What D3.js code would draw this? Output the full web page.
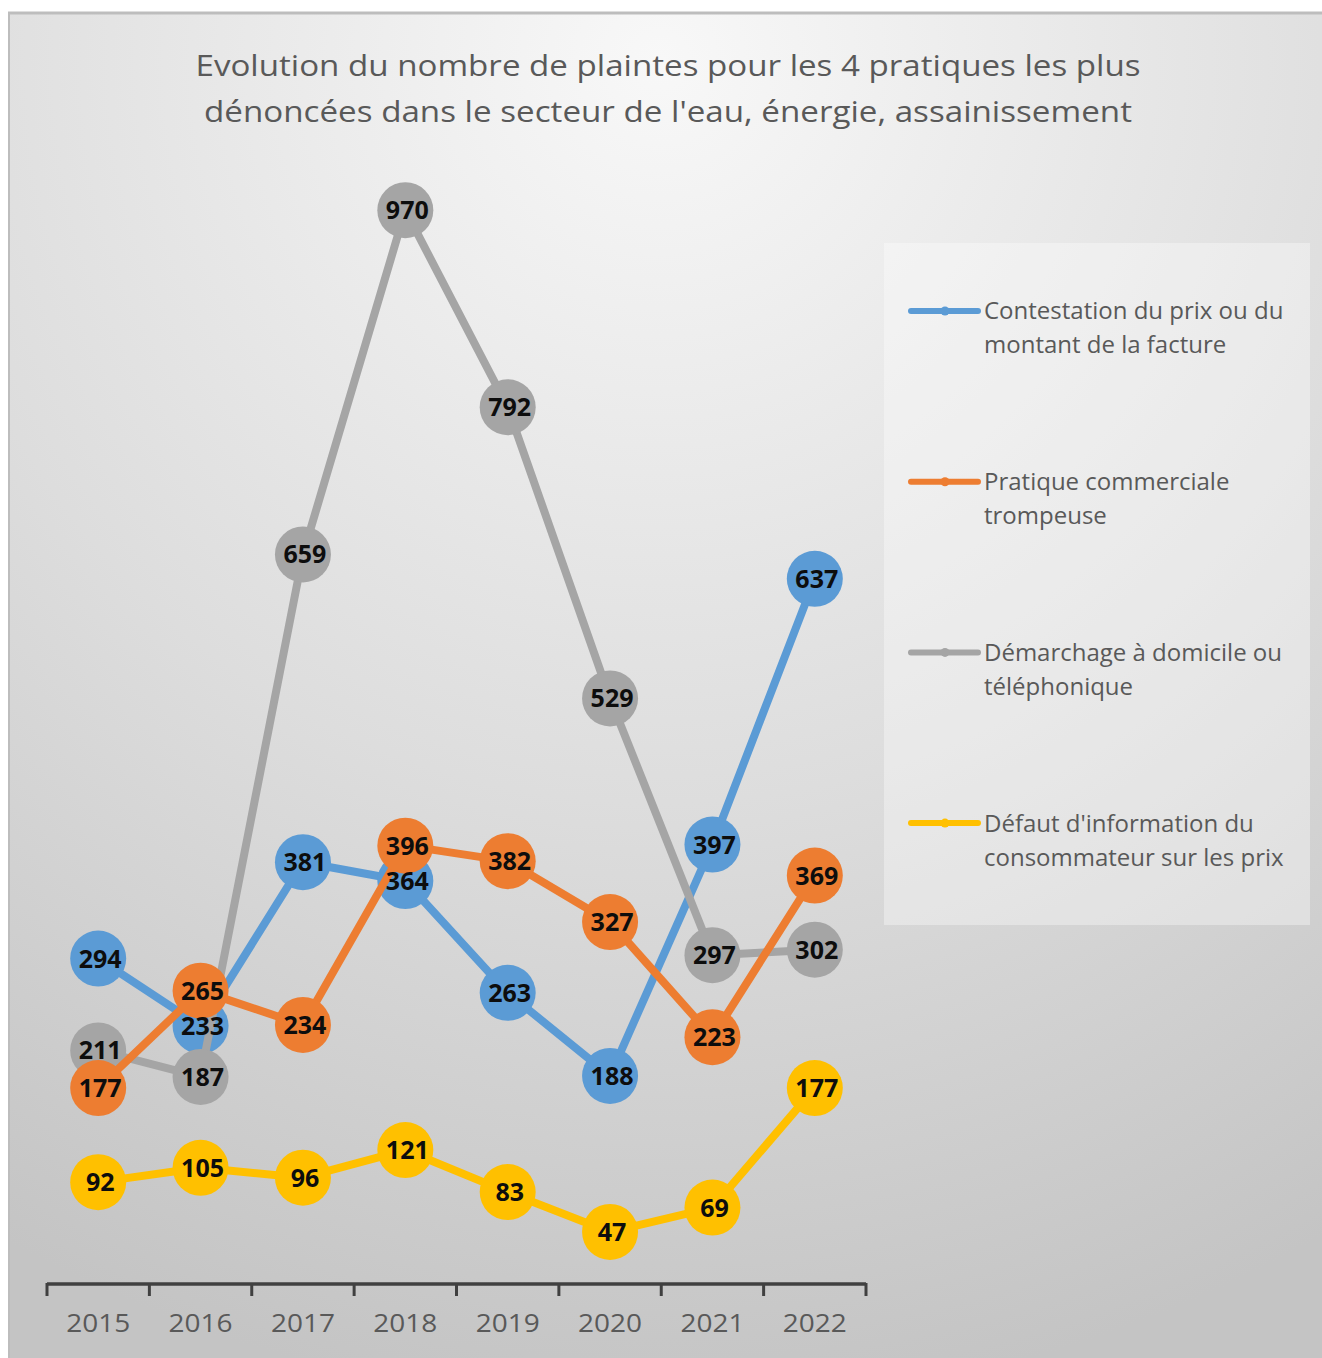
<!DOCTYPE html>
<html><head><meta charset="utf-8">
<script src="https://cdn.jsdelivr.net/npm/d3@7"></script>
<style>body{margin:0;background:#fff;}svg{display:block;}</style>
</head><body>
<script>
const years = ["2015","2016","2017","2018","2019","2020","2021","2022"];
const seriesNames = ["Contestation du prix ou du montant de la facture","Pratique commerciale trompeuse","Démarchage à domicile ou téléphonique","Défaut d'information du consommateur sur les prix"];
const contestation = [294,233,381,364,263,188,397,637];
const pratique = [177,265,234,396,382,327,223,369];
const demarchage = [211,187,659,970,792,529,297,302];
const defaut = [92,105,96,121,83,47,69,177];
const colors = ["#5B9BD5","#ED7D31","#A5A5A5","#FFC000"];
const titleLines = ["Evolution du nombre de plaintes pour les 4 pratiques les plus","dénoncées dans le secteur de l'eau, énergie, assainissement"];
const legendLines = [["Contestation du prix ou du","montant de la facture"],["Pratique commerciale","trompeuse"],["Démarchage à domicile ou","téléphonique"],["Défaut d'information du","consommateur sur les prix"]];

const W=1322,H=1358;
const svg=d3.select("body").append("svg").attr("width",W).attr("height",H);
const defs=svg.append("defs");
const g1=defs.append("radialGradient").attr("id","bg").attr("gradientUnits","userSpaceOnUse")
 .attr("cx",660).attr("cy",60).attr("r",1350).attr("fx",660).attr("fy",60);
g1.append("stop").attr("offset","0").attr("stop-color","#f8f8f8");
g1.append("stop").attr("offset","0.55").attr("stop-color","#dddddd");
g1.append("stop").attr("offset","1").attr("stop-color","#c4c4c4");
svg.append("rect").attr("x",8).attr("y",12).attr("width",W-8).attr("height",H-12).attr("fill","url(#bg)");
svg.append("line").attr("x1",8).attr("y1",13).attr("x2",W).attr("y2",13).attr("stroke","#bdbdbd").attr("stroke-width",3);
svg.append("line").attr("x1",9).attr("y1",12).attr("x2",9).attr("y2",H).attr("stroke","#bdbdbd").attr("stroke-width",2);

const font="'Open Sans', sans-serif";
// title
svg.append("g").selectAll("text").data(titleLines).join("text")
 .attr("x",668).attr("y",(d,i)=>76+i*46).attr("text-anchor","middle")
 .attr("font-family",font).attr("font-size",30).attr("fill","#595959")
 .attr("textLength",(d,i)=>i===0?945:928).attr("lengthAdjust","spacingAndGlyphs")
 .text(d=>d);

// legend
svg.append("rect").attr("x",884).attr("y",243).attr("width",426).attr("height",682).attr("fill","#ffffff").attr("opacity",0.35);

const x=d3.scaleBand().domain(years).range([47,866]);
const y=d3.scaleLinear().domain([0,1000]).range([1284,177]);

const axis=svg.append("g").attr("transform","translate(0,1284)")
 .call(d3.axisBottom(x).tickSize(0).tickPadding(30).tickSizeOuter(0));
axis.select(".domain").remove();
axis.selectAll("text").attr("font-family",font).attr("font-size",26).attr("fill","#595959")
 .attr("textLength",64).attr("lengthAdjust","spacingAndGlyphs");
const tickXs=[...years.map(d=>x(d)),x.range()[1]];
svg.append("line").attr("x1",47).attr("x2",866).attr("y1",1284).attr("y2",1284).attr("stroke","#404040").attr("stroke-width",3.5);
svg.append("g").selectAll("line").data(tickXs).join("line")
 .attr("x1",d=>d).attr("x2",d=>d).attr("y1",1283).attr("y2",1296).attr("stroke","#404040").attr("stroke-width",3);

const data=[contestation,pratique,demarchage,defaut];
const order=[0,2,1,3];
const line=d3.line().x((d,i)=>x(years[i])+x.bandwidth()/2).y(d=>y(d));
const plot=svg.append("g");
order.forEach(si=>{
 const gs=plot.append("g");
 gs.append("path").datum(data[si]).attr("d",line).attr("fill","none").attr("stroke",colors[si]).attr("stroke-width",8).attr("stroke-linejoin","round");
 gs.selectAll("circle").data(data[si]).join("circle")
  .attr("cx",(d,i)=>x(years[i])+x.bandwidth()/2).attr("cy",d=>y(d)).attr("r",28).attr("fill",colors[si]);
});
order.forEach(si=>{
 plot.append("g").selectAll("text").data(data[si]).join("text")
  .attr("x",(d,i)=>x(years[i])+x.bandwidth()/2+2).attr("y",d=>y(d)).attr("dy","0.36em")
  .attr("text-anchor","middle").attr("font-family",font).attr("font-weight","bold")
  .attr("font-size",25).attr("fill","#0d0d0d").text(d=>d);
});

const lg=svg.append("g");
legendLines.forEach((lines,i)=>{
 const cy=311+i*170.7;
 lg.append("line").attr("x1",911).attr("x2",978).attr("y1",cy).attr("y2",cy).attr("stroke",colors[i]).attr("stroke-width",6).attr("stroke-linecap","round");
 lg.append("circle").attr("cx",945).attr("cy",cy).attr("r",4.5).attr("fill",colors[i]);
 lines.forEach((t,j)=>{
  lg.append("text").attr("x",984).attr("y",cy+j*34).attr("dy","0.35em")
   .attr("font-family",font).attr("font-size",24).attr("fill","#595959").text(t);
 });
});
</script>
</body></html>
